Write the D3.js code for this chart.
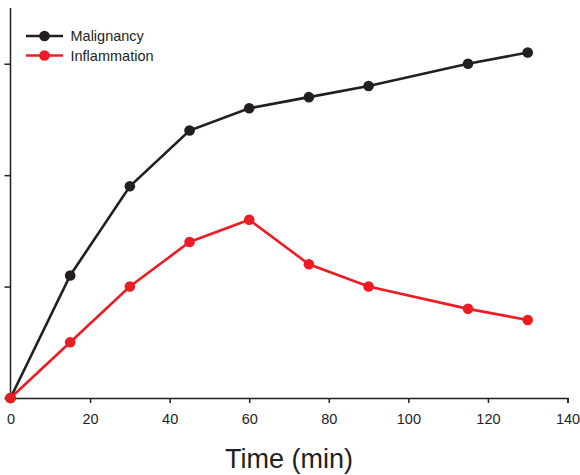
<!DOCTYPE html>
<meta charset="utf-8">
<style>
body { margin: 0; background: #fff; }
.axis path, .axis line { stroke: #231f20; stroke-width: 1.5px; }
.axis text { font: 14.5px "Liberation Sans", Arial, sans-serif; fill: #231f20; }
.line { fill: none; stroke-width: 2.6px; }
</style>
<svg id="chart" width="580" height="475"></svg>
<script src="https://cdn.jsdelivr.net/npm/d3@7"></script>
<script>
var times = [0, 15, 30, 45, 60, 75, 90, 115, 130];
var malignancy = [0, 1.1, 1.9, 2.4, 2.6, 2.7, 2.8, 3.0, 3.1];
var inflammation = [0, 0.5, 1.0, 1.4, 1.6, 1.2, 1.0, 0.8, 0.7];
var seriesNames = ["Malignancy", "Inflammation"];
var xTicks = [0, 20, 40, 60, 80, 100, 120, 140];
var yTicks = [0, 1, 2, 3];

var colors = {Malignancy: "#231f20", Inflammation: "#ed1c24"};

var svg = d3.select("#chart");

var x = d3.scaleLinear().domain([0, 140]).range([10.5, 567.5]),
    y = d3.scaleLinear().domain([0, 3.5]).range([398, 8]);

var series = [
  {id: "Malignancy", values: times.map(function(t, i) { return {t: t, v: malignancy[i]}; })},
  {id: "Inflammation", values: times.map(function(t, i) { return {t: t, v: inflammation[i]}; })}
];

// axes
svg.append("g")
    .attr("class", "axis")
    .attr("transform", "translate(0,398)")
    .call(d3.axisBottom(x).tickValues(xTicks).tickSize(5).tickSizeOuter(5).tickPadding(11))
  .selectAll("text").attr("dy", "0.71em");

var yAxis = svg.append("g")
    .attr("class", "axis")
    .attr("transform", "translate(10.5,0)")
    .call(d3.axisLeft(y).tickValues(yTicks).tickSize(6).tickSizeOuter(0).tickFormat(""));
yAxis.select(".domain").attr("d", "M0," + y(0) + "V" + y(3.5));

svg.append("text")
    .attr("x", (x(0) + x(140)) / 2)
    .attr("y", 468)
    .attr("text-anchor", "middle")
    .style("font", "27px 'Liberation Sans', Arial, sans-serif")
    .style("fill", "#231f20")
    .text("Time (min)");

var line = d3.line()
    .x(function(d) { return x(d.t); })
    .y(function(d) { return y(d.v); });

var g = svg.selectAll(".series")
  .data(series)
  .enter().append("g")
    .attr("class", "series");

g.append("path")
    .attr("class", "line")
    .attr("d", function(d) { return line(d.values); })
    .style("stroke", function(d) { return colors[d.id]; });

g.selectAll("circle")
  .data(function(d) { return d.values.map(function(p) { return {t: p.t, v: p.v, id: d.id}; }); })
  .enter().append("circle")
    .attr("cx", function(d) { return x(d.t); })
    .attr("cy", function(d) { return y(d.v); })
    .attr("r", 5.3)
    .style("fill", function(d) { return colors[d.id]; });

// legend
var legend = svg.selectAll(".legend")
  .data(seriesNames)
  .enter().append("g")
    .attr("class", "legend")
    .attr("transform", function(d, i) { return "translate(26," + (36 + i * 19.5) + ")"; });

legend.append("line")
    .attr("x1", 0).attr("x2", 37)
    .style("stroke", function(d) { return colors[d]; })
    .style("stroke-width", 2.6);

legend.append("circle")
    .attr("cx", 18.5)
    .attr("r", 5.3)
    .style("fill", function(d) { return colors[d]; });

legend.append("text")
    .attr("x", 44.5)
    .attr("dy", "0.35em")
    .style("font", "14.5px 'Liberation Sans', Arial, sans-serif")
    .style("fill", "#231f20")
    .text(function(d) { return d; });
</script>
